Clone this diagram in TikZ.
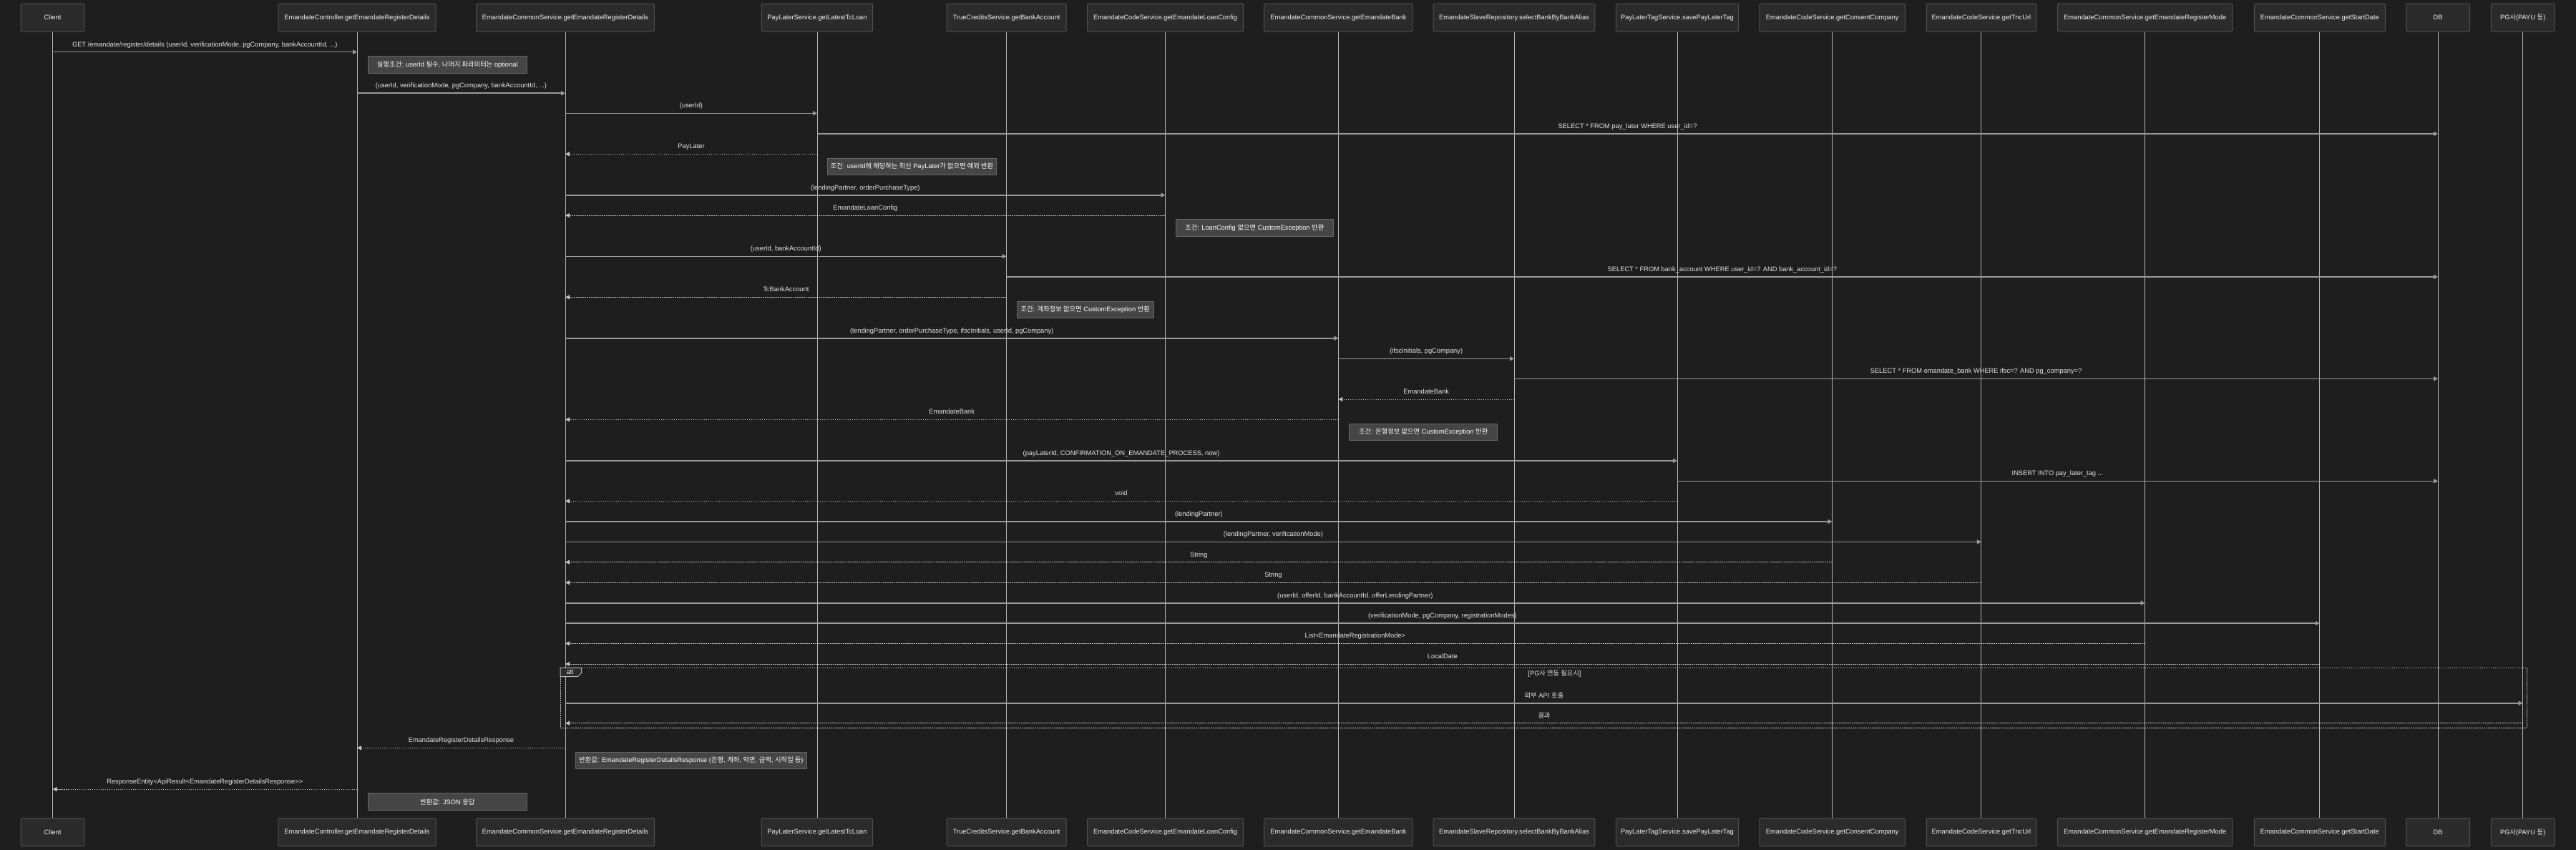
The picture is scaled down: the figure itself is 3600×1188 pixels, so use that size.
\documentclass[tikz,border=0pt]{standalone}
\usepackage{fontspec}
\setmainfont{Liberation Sans}[Ligatures=TeXOff]
\newfontfamily\krfont{Noto Sans CJK KR}
\newcommand\kr[1]{{\krfont #1}}
\usetikzlibrary{arrows.meta}
\definecolor{bgc}{HTML}{1E1E1E}
\definecolor{boxfill}{HTML}{2B2B2B}
\definecolor{boxline}{HTML}{505050}
\definecolor{notefill}{HTML}{454545}
\definecolor{noteline}{HTML}{666666}
\definecolor{lifec}{HTML}{B4B4B4}
\definecolor{msgc}{HTML}{9A9A9A}
\definecolor{retc}{HTML}{C4C4C4}
\definecolor{txtc}{HTML}{F0F0F0}
\definecolor{lblc}{HTML}{E4E4E4}
\tikzset{
  pbox/.style={draw=boxline, line width=1pt, fill=boxfill, text=txtc, rounded corners=2pt,
    minimum height=39pt, inner sep=0pt, font=\fontsize{9.3}{11}\selectfont},
  life/.style={draw=lifec, line width=0.9pt},
  msg/.style={draw=msgc, line width=1.6pt, -{Triangle[length=6pt,width=6pt]}},
  ret/.style={draw=retc, line width=1pt, dash pattern=on 1.5pt off 1.5pt, -{Triangle[length=6pt,width=6pt,fill=retc]}},
  lbl/.style={midway, anchor=base, yshift=7.5pt, inner sep=0pt, text=lblc, font=\fontsize{9.3}{11}\selectfont},
  note/.style={draw=noteline, line width=1pt, fill=notefill, text=white, anchor=west,
    minimum height=23.6pt, inner sep=0pt, font=\fontsize{9.3}{11}\selectfont},
  altbox/.style={draw=retc, line width=1pt, dash pattern=on 1.5pt off 1.5pt},
  alttab/.style={draw=lifec, line width=1pt, fill=boxfill},
  plain/.style={inner sep=0pt, text=lblc, font=\fontsize{9.3}{11}\selectfont}
}
\begin{document}
\begin{tikzpicture}[x=1pt,y=-1pt]
\fill[bgc] (0,0) rectangle (3600,1188);
\useasboundingbox (0,0) rectangle (3600,1188);
% participants top
\node[pbox, minimum width=88.8pt]  (p1)  at (73.5,24.65)  {Client};
\node[pbox, minimum width=220.4pt] (p2)  at (499,24.65)   {EmandateController.getEmandateRegisterDetails};
\node[pbox, minimum width=248.7pt] (p3)  at (790,24.65)   {EmandateCommonService.getEmandateRegisterDetails};
\node[pbox, minimum width=155.2pt] (p4)  at (1142,24.65)  {PayLaterService.getLatestTcLoan};
\node[pbox, minimum width=167pt]   (p5)  at (1406.6,24.65){TrueCreditsService.getBankAccount};
\node[pbox, minimum width=218pt]   (p6)  at (1628.6,24.65){EmandateCodeService.getEmandateLoanConfig};
\node[pbox, minimum width=207.5pt] (p7)  at (1870.4,24.65){EmandateCommonService.getEmandateBank};
\node[pbox, minimum width=225.7pt] (p8)  at (2116,24.65)  {EmandateSlaveRepository.selectBankByBankAlias};
\node[pbox, minimum width=171.4pt] (p9)  at (2344,24.65)  {PayLaterTagService.savePayLaterTag};
\node[pbox, minimum width=203.5pt] (p10) at (2560.7,24.65){EmandateCodeService.getConsentCompany};
\node[pbox, minimum width=153.1pt] (p11) at (2768.9,24.65){EmandateCodeService.getTncUrl};
\node[pbox, minimum width=244pt]   (p12) at (2997.7,24.65){EmandateCommonService.getEmandateRegisterMode};
\node[pbox, minimum width=183pt]   (p13) at (3241.8,24.65){EmandateCommonService.getStartDate};
\node[pbox, minimum width=88.8pt]  (p14) at (3407.1,24.65){DB};
\node[pbox, minimum width=88.6pt]  (p15) at (3525.7,24.65){PG\kr{사}(PAYU \kr{등})};
% participants bottom
\node[pbox, minimum width=88.8pt]  (q1)  at (73.5,1163.2)  {Client};
\node[pbox, minimum width=220.4pt] (q2)  at (499,1163.2)   {EmandateController.getEmandateRegisterDetails};
\node[pbox, minimum width=248.7pt] (q3)  at (790,1163.2)   {EmandateCommonService.getEmandateRegisterDetails};
\node[pbox, minimum width=155.2pt] (q4)  at (1142,1163.2)  {PayLaterService.getLatestTcLoan};
\node[pbox, minimum width=167pt]   (q5)  at (1406.6,1163.2){TrueCreditsService.getBankAccount};
\node[pbox, minimum width=218pt]   (q6)  at (1628.6,1163.2){EmandateCodeService.getEmandateLoanConfig};
\node[pbox, minimum width=207.5pt] (q7)  at (1870.4,1163.2){EmandateCommonService.getEmandateBank};
\node[pbox, minimum width=225.7pt] (q8)  at (2116,1163.2)  {EmandateSlaveRepository.selectBankByBankAlias};
\node[pbox, minimum width=171.4pt] (q9)  at (2344,1163.2)  {PayLaterTagService.savePayLaterTag};
\node[pbox, minimum width=203.5pt] (q10) at (2560.7,1163.2){EmandateCodeService.getConsentCompany};
\node[pbox, minimum width=153.1pt] (q11) at (2768.9,1163.2){EmandateCodeService.getTncUrl};
\node[pbox, minimum width=244pt]   (q12) at (2997.7,1163.2){EmandateCommonService.getEmandateRegisterMode};
\node[pbox, minimum width=183pt]   (q13) at (3241.8,1163.2){EmandateCommonService.getStartDate};
\node[pbox, minimum width=88.8pt]  (q14) at (3407.1,1163.2){DB};
\node[pbox, minimum width=88.6pt]  (q15) at (3525.7,1163.2){PG\kr{사}(PAYU \kr{등})};
% lifelines
\foreach \i in {1,...,15} { \draw[life] (p\i) -- (q\i); }
% alt box
\draw[altbox] (783,933.3) rectangle (3531,1017);
\draw[alttab] (783,933.3) -- (812.7,933.3) -- (812.7,940.5) -- (807.5,945.7) -- (783,945.7) -- cycle;
\node[plain, text=txtc] (altlbl) at (796.5,939.5) {alt};
\node[plain] (alttitle) at (2172.5,942) {[PG\kr{사 연동 필요시}]};
% messages
\draw[msg] (p1 |- 0,72.7) -- (p2 |- 0,72.7) node[lbl] {GET /emandate/register/details (userId, verificationMode, pgCompany, bankAccountId, ...)};
\draw[msg] (p2 |- 0,130.3) -- (p3 |- 0,130.3) node[lbl] {(userId, verificationMode, pgCompany, bankAccountId, ...)};
\draw[msg] (p3 |- 0,158.3) -- (p4 |- 0,158.3) node[lbl] {(userId)};
\draw[msg] (p4 |- 0,187) -- (p14 |- 0,187) node[lbl] {SELECT * FROM pay\_later WHERE user\_id=?};
\draw[ret] (p4 |- 0,215.3) -- (p3 |- 0,215.3) node[lbl] {PayLater};
\draw[msg] (p3 |- 0,272.7) -- (p6 |- 0,272.7) node[lbl] {(lendingPartner, orderPurchaseType)};
\draw[ret] (p6 |- 0,301) -- (p3 |- 0,301) node[lbl] {EmandateLoanConfig};
\draw[msg] (p3 |- 0,358.3) -- (p5 |- 0,358.3) node[lbl] {(userId, bankAccountId)};
\draw[msg] (p5 |- 0,387) -- (p14 |- 0,387) node[lbl] {SELECT * FROM bank\_account WHERE user\_id=? AND bank\_account\_id=?};
\draw[ret] (p5 |- 0,415.3) -- (p3 |- 0,415.3) node[lbl] {TcBankAccount};
\draw[msg] (p3 |- 0,472.7) -- (p7 |- 0,472.7) node[lbl] {(lendingPartner, orderPurchaseType, ifscInitials, userId, pgCompany)};
\draw[msg] (p7 |- 0,501.3) -- (p8 |- 0,501.3) node[lbl] {(ifscInitials, pgCompany)};
\draw[msg] (p8 |- 0,529.3) -- (p14 |- 0,529.3) node[lbl] {SELECT * FROM emandate\_bank WHERE ifsc=? AND pg\_company=?};
\draw[ret] (p8 |- 0,558) -- (p7 |- 0,558) node[lbl] {EmandateBank};
\draw[ret] (p7 |- 0,586.3) -- (p3 |- 0,586.3) node[lbl] {EmandateBank};
\draw[msg] (p3 |- 0,644) -- (p9 |- 0,644) node[lbl] {(payLaterId, CONFIRMATION\_ON\_EMANDATE\_PROCESS, now)};
\draw[msg] (p9 |- 0,672.3) -- (p14 |- 0,672.3) node[lbl] {INSERT INTO pay\_later\_tag ...};
\draw[ret] (p9 |- 0,700.3) -- (p3 |- 0,700.3) node[lbl] {void};
\draw[msg] (p3 |- 0,729) -- (p10 |- 0,729) node[lbl] {(lendingPartner)};
\draw[msg] (p3 |- 0,757.3) -- (p11 |- 0,757.3) node[lbl] {(lendingPartner, verificationMode)};
\draw[ret] (p10 |- 0,785.7) -- (p3 |- 0,785.7) node[lbl] {String};
\draw[ret] (p11 |- 0,814.3) -- (p3 |- 0,814.3) node[lbl] {String};
\draw[msg] (p3 |- 0,842.7) -- (p12 |- 0,842.7) node[lbl] {(userId, offerId, bankAccountId, offerLendingPartner)};
\draw[msg] (p3 |- 0,871) -- (p13 |- 0,871) node[lbl] {(verificationMode, pgCompany, registrationModes)};
\draw[ret] (p12 |- 0,899.3) -- (p3 |- 0,899.3) node[lbl] {List<EmandateRegistrationMode>};
\draw[ret] (p13 |- 0,928) -- (p3 |- 0,928) node[lbl] {LocalDate};
\draw[msg] (p3 |- 0,982.7) -- (p15 |- 0,982.7) node[lbl] {\kr{외부} API \kr{호출}};
\draw[ret] (p15 |- 0,1010.7) -- (p3 |- 0,1010.7) node[lbl] {\kr{결과}};
\draw[ret] (p3 |- 0,1045.3) -- (p2 |- 0,1045.3) node[lbl] {EmandateRegisterDetailsResponse};
\draw[ret] (p2 |- 0,1103) -- (p1 |- 0,1103) node[lbl] {ResponseEntity<ApiResult<EmandateRegisterDetailsResponse>>};
% notes
\node[note, minimum width=221.5pt] (n1) at (514,90.3) {\kr{실행조건}: userId \kr{필수}, \kr{나머지 파라미터는} optional};
\node[note, minimum width=235.8pt] (n2) at (1156,232.9) {\kr{조건}: userId\kr{에 해당하는 최신} PayLater\kr{가 없으면 예외 반환}};
\node[note, minimum width=219.5pt] (n3) at (1643,318.7) {\kr{조건}: LoanConfig \kr{없으면} CustomException \kr{반환}};
\node[note, minimum width=190.5pt] (n4) at (1421,432.9) {\kr{조건}: \kr{계좌정보 없으면} CustomException \kr{반환}};
\node[note, minimum width=207.3pt] (n5) at (1885,604) {\kr{조건}: \kr{은행정보 없으면} CustomException \kr{반환}};
\node[note, minimum width=322.3pt] (n6) at (804.3,1062.8) {\kr{반환값}: EmandateRegisterDetailsResponse (\kr{은행}, \kr{계좌}, \kr{약관}, \kr{금액}, \kr{시작일 등})};
\node[note, minimum width=221.2pt] (n7) at (514.3,1120.5) {\kr{반환값}: JSON \kr{응답}};
\end{tikzpicture}
\end{document}
